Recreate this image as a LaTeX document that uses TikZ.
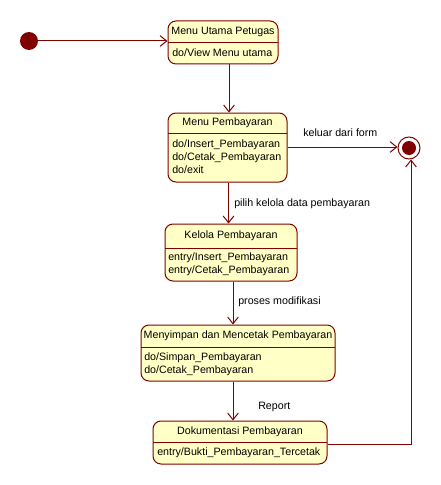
\documentclass[tikz,border=0pt]{standalone}
\usepackage{fontspec}
\setmainfont{Liberation Sans}
\usetikzlibrary{arrows.meta}
\definecolor{dred}{HTML}{800000}
\definecolor{sfill}{HTML}{FFFFC6}
\begin{document}
\begin{tikzpicture}[x=0.75pt,y=-0.75pt,
  statebox/.style={draw=dred, fill=sfill, rounded corners=6pt, line width=0.75pt, inner sep=0pt},
  divline/.style={draw=dred, line width=0.75pt},
  conn/.style={draw=dred, line width=0.75pt},
  arr/.style={conn, -{Straight Barb[length=5pt,width=8pt]}},
  ttl/.style={inner sep=0pt, font=\fontsize{8pt}{10pt}\selectfont},
  act/.style={inner sep=0pt, anchor=west, font=\fontsize{8pt}{10pt}\selectfont},
  lbl/.style={inner sep=0pt, anchor=west, font=\fontsize{8pt}{10pt}\selectfont}]
\useasboundingbox (0,0) rectangle (441,485);
\fill[white] (0,0) rectangle (441,485);

% initial and final states
\node[circle, fill=dred, minimum size=13.5pt, inner sep=0pt] (init) at (29,41) {};
\node[circle, draw=dred, fill=white, line width=0.75pt, minimum size=16.5pt, inner sep=0pt] (final) at (409,148) {};
\node[circle, fill=dred, minimum size=10.5pt, inner sep=0pt] (finalin) at (409,148) {};

% states
\node[statebox, minimum width=82.5pt, minimum height=32.25pt] (A) at (223,42.5) {};
\draw[divline] (168,43) -- (278,43);
\node[ttl] (At) at (223,32) {Menu Utama Petugas};
\node[act] (Aa) at (172,53) {do/View Menu utama};

\node[statebox, minimum width=89.25pt, minimum height=51.75pt] (B) at (227.5,147.5) {};
\draw[divline] (168,133) -- (287,133);
\node[ttl] (Bt) at (227.5,123) {Menu Pembayaran};
\node[act] (Ba1) at (172,145) {do/Insert\_Pembayaran};
\node[act] (Ba2) at (172,157.5) {do/Cetak\_Pembayaran};
\node[act] (Ba3) at (172,170) {do/exit};

\node[statebox, minimum width=99pt, minimum height=42.75pt] (C) at (231,252.5) {};
\draw[divline] (165,248) -- (297,248);
\node[ttl] (Ct) at (231,235.5) {Kelola Pembayaran};
\node[act] (Ca1) at (168,258) {entry/Insert\_Pembayaran};
\node[act] (Ca2) at (168,270.5) {entry/Cetak\_Pembayaran};

\node[statebox, minimum width=145.5pt, minimum height=42pt] (D) at (238,353) {};
\draw[divline] (141,347) -- (335,347);
\node[ttl] (Dt) at (238,335.5) {Menyimpan dan Mencetak Pembayaran};
\node[act] (Da1) at (144,358) {do/Simpan\_Pembayaran};
\node[act] (Da2) at (144,370.5) {do/Cetak\_Pembayaran};

\node[statebox, minimum width=130.5pt, minimum height=32.25pt] (E) at (240,442.5) {};
\draw[divline] (153,442) -- (327,442);
\node[ttl] (Et) at (240,431.5) {Dokumentasi Pembayaran};
\node[act] (Ea) at (157,453) {entry/Bukti\_Pembayaran\_Tercetak};

% helper coordinates
\coordinate (xab) at (229,0);
\coordinate (xbc) at (228.5,0);
\coordinate (xcd) at (233,0);
\coordinate (xde) at (233,0);
\coordinate (yib) at (0,147);
\coordinate (yef) at (0,444);
\coordinate (xf) at (411,0);

% connectors
\draw[arr] (init) -- (A.west |- init);
\draw[arr] (A.south -| xab) -- (B.north -| xab);
\draw[arr] (B.east |- yib) -- (final.west |- yib);
\draw[arr] (B.south -| xbc) -- (C.north -| xbc);
\draw[arr] (C.south -| xcd) -- (D.north -| xcd);
\draw[arr] (D.south -| xde) -- (E.north -| xde);
\draw[arr] (E.east |- yef) -- (xf |- yef) -- (final.south -| xf);

% labels
\node[lbl] (l1) at (303,133) {keluar dari form};
\node[lbl] (l2) at (234,204) {pilih kelola data pembayaran};
\node[lbl] (l3) at (238,302) {proses modifikasi};
\node[lbl] (l4) at (258,407) {Report};
\end{tikzpicture}
\end{document}
